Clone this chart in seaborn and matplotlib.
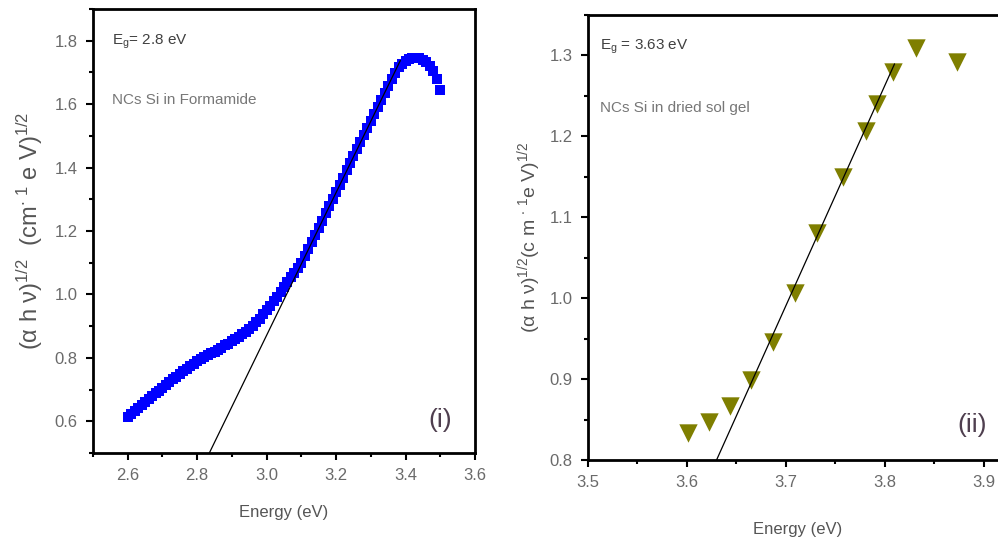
import matplotlib
matplotlib.use("Agg")
import matplotlib.pyplot as plt
import seaborn as sb
import pandas as pd
from matplotlib.ticker import MultipleLocator

sb.set_style("ticks")
plt.rcParams['font.family'] = ['Liberation Sans', 'DejaVu Sans']
plt.rcParams['mathtext.fontset'] = 'custom'
plt.rcParams['mathtext.rm'] = 'Liberation Sans'
plt.rcParams['mathtext.default'] = 'regular'

# panel (i): NCs Si in formamide
energy_i = [2.60, 2.61, 2.62, 2.63, 2.64, 2.65, 2.66, 2.67, 2.68, 2.69,
            2.70, 2.71, 2.72, 2.73, 2.74, 2.75, 2.76, 2.77, 2.78, 2.79,
            2.80, 2.81, 2.82, 2.83, 2.84, 2.85, 2.86, 2.87, 2.88, 2.89,
            2.90, 2.91, 2.92, 2.93, 2.94, 2.95, 2.96, 2.97, 2.98, 2.99,
            3.00, 3.01, 3.02, 3.03, 3.04, 3.05, 3.06, 3.07, 3.08, 3.09,
            3.10, 3.11, 3.12, 3.13, 3.14, 3.15, 3.16, 3.17, 3.18, 3.19,
            3.20, 3.21, 3.22, 3.23, 3.24, 3.25, 3.26, 3.27, 3.28, 3.29,
            3.30, 3.31, 3.32, 3.33, 3.34, 3.35, 3.36, 3.37, 3.38, 3.39,
            3.40, 3.41, 3.42, 3.43, 3.44, 3.45, 3.46, 3.47, 3.48, 3.49,
            3.50]
value_i = [0.612, 0.622, 0.632, 0.642, 0.652, 0.662, 0.671, 0.680, 0.689, 0.697,
           0.706, 0.715, 0.724, 0.733, 0.741, 0.750, 0.758, 0.766, 0.774, 0.782,
           0.790, 0.796, 0.802, 0.808, 0.814, 0.820, 0.826, 0.832, 0.839, 0.845,
           0.852, 0.859, 0.867, 0.875, 0.883, 0.892, 0.902, 0.913, 0.924, 0.937,
           0.950, 0.964, 0.978, 0.993, 1.008, 1.024, 1.039, 1.054, 1.069, 1.084,
           1.099, 1.121, 1.143, 1.166, 1.188, 1.211, 1.233, 1.256, 1.278, 1.301,
           1.323, 1.346, 1.368, 1.391, 1.413, 1.436, 1.458, 1.481, 1.503, 1.526,
           1.548, 1.570, 1.592, 1.614, 1.636, 1.657, 1.678, 1.698, 1.716, 1.728,
           1.736, 1.741, 1.744, 1.746, 1.745, 1.740, 1.732, 1.720, 1.703, 1.680,
           1.645]
eg_i = 2.835
slope_i = 2.25
fit_end_i = 3.385

# panel (ii): NCs Si in dried sol gel
energy_ii = [3.601, 3.622, 3.644, 3.665, 3.687, 3.709, 3.732, 3.758, 3.781, 3.792, 3.808, 3.832, 3.873]
value_ii = [0.833, 0.847, 0.867, 0.899, 0.946, 1.007, 1.081, 1.150, 1.207, 1.240, 1.279, 1.309, 1.292]
eg_ii = 3.63
slope_ii = 2.72
fit_end_ii = 3.81

df_i = pd.DataFrame({'energy': energy_i, 'value': value_i})
df_ii = pd.DataFrame({'energy': energy_ii, 'value': value_ii})
fit_i = pd.DataFrame({'energy': [eg_i, fit_end_i]})
fit_i['value'] = 0.5 + slope_i * (fit_i['energy'] - eg_i)
fit_ii = pd.DataFrame({'energy': [eg_ii, fit_end_ii]})
fit_ii['value'] = 0.8 + slope_ii * (fit_ii['energy'] - eg_ii)

tick_gray = '#6a6a6a'
text_gray = '#555555'

fig = plt.figure(figsize=(9.98, 5.4), dpi=100)
ax1 = fig.add_axes([93/998, 87/540, 382/998, 444/540])
ax2 = fig.add_axes([588/998, 80/540, 445/998, 445/540])

sb.scatterplot(data=df_i, x='energy', y='value', marker='s', s=52, color='#0000ff',
               linewidth=0, ax=ax1, zorder=2)
sb.lineplot(data=fit_i, x='energy', y='value', color='black', lw=0.9, ax=ax1, zorder=3)

sb.scatterplot(data=df_ii, x='energy', y='value', marker='v', s=175, color='#7f7f00',
               linewidth=0, ax=ax2, zorder=2)
sb.lineplot(data=fit_ii, x='energy', y='value', color='black', lw=0.9, ax=ax2, zorder=3)

ax1.set_xlim(2.5, 3.6)
ax1.set_ylim(0.5, 1.9)
ax1.set_xticks([2.6, 2.8, 3.0, 3.2, 3.4, 3.6])
ax1.xaxis.set_minor_locator(MultipleLocator(0.1))
ax1.set_yticks([0.6, 0.8, 1.0, 1.2, 1.4, 1.6, 1.8])
ax1.yaxis.set_minor_locator(MultipleLocator(0.1))

ax2.set_xlim(3.5, 3.95)
ax2.set_ylim(0.8, 1.35)
ax2.set_xticks([3.5, 3.6, 3.7, 3.8, 3.9])
ax2.xaxis.set_minor_locator(MultipleLocator(0.05))
ax2.set_yticks([0.8, 0.9, 1.0, 1.1, 1.2, 1.3])
ax2.yaxis.set_minor_locator(MultipleLocator(0.05))

for ax in (ax1, ax2):
    for s in ax.spines.values():
        s.set_color('black')
        s.set_linewidth(2)
    ax.tick_params(which='major', direction='out', length=5, width=1.5,
                   colors='black', labelcolor=tick_gray, labelsize=12, pad=6)
    ax.tick_params(which='minor', direction='out', length=3, width=1.5, colors='black')
    ax.tick_params(top=False, right=False)

ax1.set_xlabel('Energy (eV)', fontsize=12, color=text_gray, labelpad=16)
ax1.set_ylabel('(α h ν)$^{1/2}$  (cm$^{\\cdot\\ 1}$ e V)$^{1/2}$', fontsize=17, color=text_gray)
ax1.yaxis.set_label_coords(-0.125, 0.5)

ax2.set_xlabel('Energy (eV)', fontsize=12, color=text_gray, labelpad=12)
ax2.xaxis.set_label_coords(0.472, -0.14)
ax2.set_ylabel('(α h ν)$^{1/2}$(c m $^{\\cdot\\ 1}$e V)$^{1/2}$', fontsize=14, color=text_gray)
ax2.yaxis.set_label_coords(-0.102, 0.5)

ax1.text(0.05, 0.926, 'E$_g$= 2.8 eV', transform=ax1.transAxes, fontsize=11,
         color='#404040', va='center')
ax1.text(0.05, 0.795, 'NCs Si in Formamide', transform=ax1.transAxes, fontsize=11,
         color='#777777', va='center')
ax1.text(0.908, 0.074, '(i)', transform=ax1.transAxes, fontsize=19,
         color='#4f3f4f', ha='center', va='center')

ax2.text(0.027, 0.928, 'E$_g$ = 3.63 eV', transform=ax2.transAxes, fontsize=11,
         color='#404040', va='center')
ax2.text(0.027, 0.791, 'NCs Si in dried sol gel', transform=ax2.transAxes, fontsize=11,
         color='#777777', va='center')
ax2.text(0.863, 0.079, '(ii)', transform=ax2.transAxes, fontsize=19,
         color='#4f3f4f', ha='center', va='center')

fig.savefig('out.png', dpi=100)
